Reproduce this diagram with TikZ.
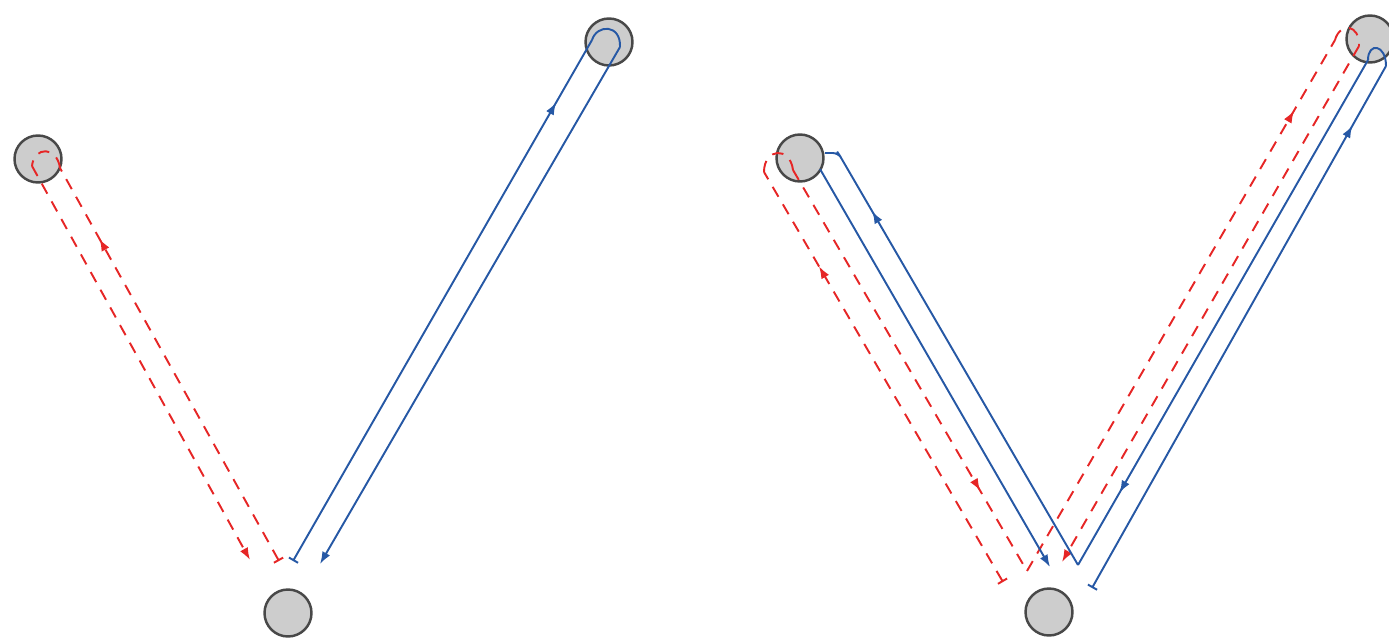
\documentclass[tikz,border=0pt]{standalone}
\usetikzlibrary{arrows.meta,decorations.markings}
\definecolor{pathred}{RGB}{230,38,38}
\definecolor{pathblue}{RGB}{38,88,165}
\definecolor{nodefill}{RGB}{205,205,205}
\definecolor{nodeedge}{RGB}{72,72,72}
\tikzset{
  station/.style={circle, draw=nodeedge, fill=nodefill, line width=1.4pt, minimum size=0.94cm, inner sep=0pt},
  redpath/.style={color=pathred, line width=1.1pt, dash pattern=on 6.5pt off 5pt},
  bluepath/.style={color=pathblue, line width=1.1pt},
  endtip/.style={-{Latex[length=7pt,width=5pt]}},
  starttick/.style={{Bar[width=6pt]}-},
  midarrow/.style={postaction={decorate, decoration={markings, mark=at position #1 with {\arrow{Latex[length=7pt,width=5pt]}}}}},
}
\begin{document}
\begin{tikzpicture}[x=0.02cm, y=-0.02cm]
\useasboundingbox (0,0) rectangle (1389,642);

% ---------- stations ----------
\node[station] (A) at (38,159) {};
\node[station] (B) at (288,613) {};
\node[station] (C) at (609,42) {};
\node[station] (D) at (800,158) {};
\node[station] (E) at (1049,612) {};
\node[station] (F) at (1370,39) {};

% ---------- left panel waypoints ----------
\coordinate (rL2b) at (279,561);
\coordinate (rL2t) at (60,168);
\coordinate (rL1t) at (32,166);
\coordinate (rL1b) at (250,560);
\coordinate (bL1b) at (293,561);
\coordinate (bL1t) at (592,40);
\coordinate (bL2t) at (620,47);
\coordinate (bL2b) at (320,564);

% red: up to A and back down
\draw[redpath, starttick, midarrow=0.82] (rL2b) -- (rL2t);
\draw[redpath] (rL2t) .. controls (57,146) and (34,146) .. (rL1t);
\draw[redpath, endtip] (rL1t) -- (rL1b);

% blue: up to C and back down
\draw[bluepath, starttick, midarrow=0.88] (bL1b) -- (bL1t);
\draw[bluepath] (bL1t) .. controls (597,24) and (621,24) .. (bL2t);
\draw[bluepath, endtip] (bL2t) -- (bL2b);

% ---------- right panel waypoints ----------
\coordinate (R1b) at (1003,582);
\coordinate (R1t) at (764,172);
\coordinate (R2t) at (793,170);
\coordinate (R2b) at (1027,571);
\coordinate (R5t) at (1335,40);
\coordinate (R6t) at (1359,46);
\coordinate (R6b) at (1062,562);

\coordinate (B8b) at (1092,588);
\coordinate (B8t) at (1386,66);
\coordinate (B7t) at (1368,60);
\coordinate (BV) at (1078,565);
\coordinate (B4t) at (840,156);
\coordinate (B4h) at (825,153);
\coordinate (B3t) at (820,169);
\coordinate (B3b) at (1050,567);

% red: up to D, down, up to F, down
\draw[redpath, starttick, midarrow=0.77] (R1b) -- (R1t);
\draw[redpath] (R1t) .. controls (764,148) and (790,146) .. (R2t);
\draw[redpath, midarrow=0.80] (R2t) -- (R2b);
\draw[redpath, midarrow=0.867] (R2b) -- (R5t);
\draw[redpath] (R5t) .. controls (1340,22) and (1360,24) .. (R6t);
\draw[redpath, endtip] (R6t) -- (R6b);

% blue: up to F, down, up to D, down
\draw[bluepath, starttick, midarrow=0.886] (B8b) -- (B8t);
\draw[bluepath] (B8t) .. controls (1386,44) and (1368,42) .. (B7t);
\draw[bluepath, midarrow=0.857] (B7t) -- (BV);
\draw[bluepath, midarrow=0.814, rounded corners=3pt] (BV) -- (B4t) -- (838,153) -- (B4h);
\draw[bluepath, endtip] (B3t) -- (B3b);
\end{tikzpicture}
\end{document}
